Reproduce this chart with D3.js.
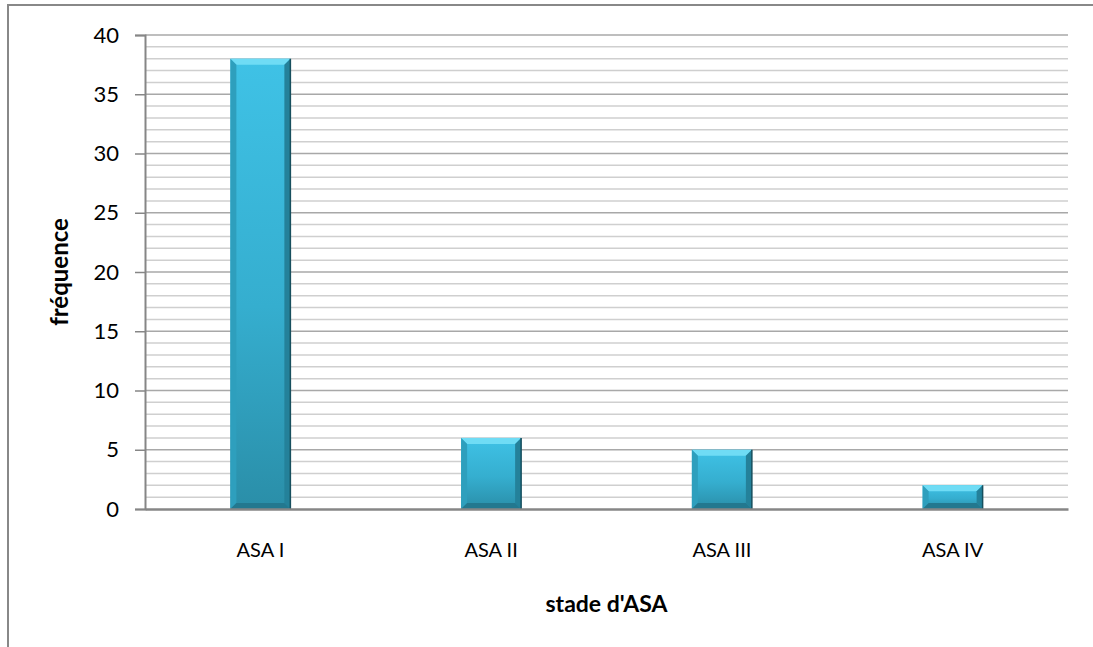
<!DOCTYPE html>
<html>
<head>
<meta charset="utf-8">
<script src="https://cdn.jsdelivr.net/npm/d3@7"></script>
<style>
  body { margin: 0; background: #fff; }
  text { font-family: Lato, "Open Sans", sans-serif; fill: #000; }
</style>
</head>
<body>
<div id="chart"></div>
<script>
const categories = ["ASA I", "ASA II", "ASA III", "ASA IV"];
const values = [38, 6, 5, 2];
const yTicks = [0, 5, 10, 15, 20, 25, 30, 35, 40];
const xTitle = "stade d'ASA";
const yTitle = "fréquence";

const W = 1093, H = 647;
const margin = { top: 35, right: 25, bottom: 138, left: 145 };
const width = W - margin.left - margin.right;
const height = H - margin.top - margin.bottom;

const root = d3.select("#chart").append("svg")
  .attr("width", W)
  .attr("height", H);

// outer chart border (right and bottom run past the picture)
root.append("rect")
  .attr("x", 8).attr("y", 5)
  .attr("width", W + 20).attr("height", H + 20)
  .attr("fill", "none")
  .attr("stroke", "#888")
  .attr("stroke-width", 2);

const defs = root.append("defs");
const grad = defs.append("linearGradient")
  .attr("id", "barGrad").attr("x1", 0).attr("y1", 0).attr("x2", 0).attr("y2", 1);
grad.append("stop").attr("offset", "0%").attr("stop-color", "#3fc2e6");
grad.append("stop").attr("offset", "55%").attr("stop-color", "#35aecf");
grad.append("stop").attr("offset", "100%").attr("stop-color", "#2a8ea8");

const svg = root.append("g")
  .attr("transform", `translate(${margin.left},${margin.top})`);

const x = d3.scaleBand()
  .domain(categories)
  .range([0, width])
  .paddingInner(0.74)
  .paddingOuter(0.37);

const y = d3.scaleLinear().domain([0, 40]).range([height, 0]);

// minor grid every 1
svg.append("g")
  .selectAll("line")
  .data(d3.range(1, 41).filter(d => d % 5 !== 0))
  .enter().append("line")
  .attr("x1", 0).attr("x2", width)
  .attr("y1", d => y(d)).attr("y2", d => y(d))
  .attr("stroke", "#cfcfcf")
  .attr("stroke-width", 1.5);

// major grid
svg.append("g")
  .selectAll("line")
  .data(yTicks.filter(d => d > 0))
  .enter().append("line")
  .attr("x1", 0).attr("x2", width)
  .attr("y1", d => y(d)).attr("y2", d => y(d))
  .attr("stroke", "#a8a8a8")
  .attr("stroke-width", 1.5);

// y axis
const yAxis = svg.append("g")
  .call(d3.axisLeft(y).tickValues(yTicks).tickSize(10).tickPadding(16));
yAxis.select(".domain").attr("stroke", "#868686").attr("stroke-width", 2);
yAxis.selectAll(".tick line").attr("stroke", "#868686").attr("stroke-width", 1.5);
yAxis.selectAll(".tick text")
  .attr("font-size", 22)
  .attr("font-family", "Lato, 'Open Sans', sans-serif")
  .attr("fill", "#000");

// bars
const bars = svg.selectAll(".bar")
  .data(categories.map((c, i) => ({ cat: c, value: values[i] })))
  .enter().append("g")
  .attr("class", "bar");

bars.append("rect")
  .attr("x", d => x(d.cat))
  .attr("y", d => y(d.value))
  .attr("width", x.bandwidth())
  .attr("height", d => y(0) - y(d.value))
  .attr("fill", "url(#barGrad)");

const bev = 6;
// top bevel (light)
bars.append("polygon")
  .attr("points", d => {
    const x0 = x(d.cat), x1 = x0 + x.bandwidth(), t = y(d.value);
    return [[x0, t], [x1, t], [x1 - bev, t + bev], [x0 + bev, t + bev]].join(" ");
  })
  .attr("fill", "#6fdcf5");
// left bevel
bars.append("polygon")
  .attr("points", d => {
    const x0 = x(d.cat), t = y(d.value), b = y(0);
    return [[x0, t], [x0 + bev, t + bev], [x0 + bev, b - bev], [x0, b]].join(" ");
  })
  .attr("fill", "#2e9fbd");
// right bevel (dark)
bars.append("polygon")
  .attr("points", d => {
    const x1 = x(d.cat) + x.bandwidth(), t = y(d.value), b = y(0);
    return [[x1, t], [x1, b], [x1 - bev, b - bev], [x1 - bev, t + bev]].join(" ");
  })
  .attr("fill", "#24819a");
// bottom bevel
bars.append("polygon")
  .attr("points", d => {
    const x0 = x(d.cat), x1 = x0 + x.bandwidth(), b = y(0);
    return [[x0, b], [x0 + bev, b - bev], [x1 - bev, b - bev], [x1, b]].join(" ");
  })
  .attr("fill", "#23788f");
// dark right edge line
bars.append("line")
  .attr("x1", d => x(d.cat) + x.bandwidth()).attr("x2", d => x(d.cat) + x.bandwidth())
  .attr("y1", d => y(d.value)).attr("y2", y(0))
  .attr("stroke", "#174f5e").attr("stroke-width", 1.5);

// x axis
const xAxis = svg.append("g")
  .attr("transform", `translate(0,${height})`)
  .call(d3.axisBottom(x).tickSize(0).tickPadding(34));
xAxis.select(".domain").attr("stroke", "#868686").attr("stroke-width", 2.5);
xAxis.selectAll(".tick text")
  .attr("font-size", 20)
  .attr("font-family", "Lato, 'Open Sans', sans-serif")
  .attr("fill", "#000");

// axis titles
root.append("text")
  .attr("x", margin.left + width / 2)
  .attr("y", 612)
  .attr("text-anchor", "middle")
  .attr("font-size", 23)
  .attr("font-weight", "bold")
  .text(xTitle);

root.append("text")
  .attr("transform", `translate(68,${margin.top + height / 2}) rotate(-90)`)
  .attr("text-anchor", "middle")
  .attr("font-size", 24)
  .attr("font-weight", "bold")
  .text(yTitle);
</script>
</body>
</html>
